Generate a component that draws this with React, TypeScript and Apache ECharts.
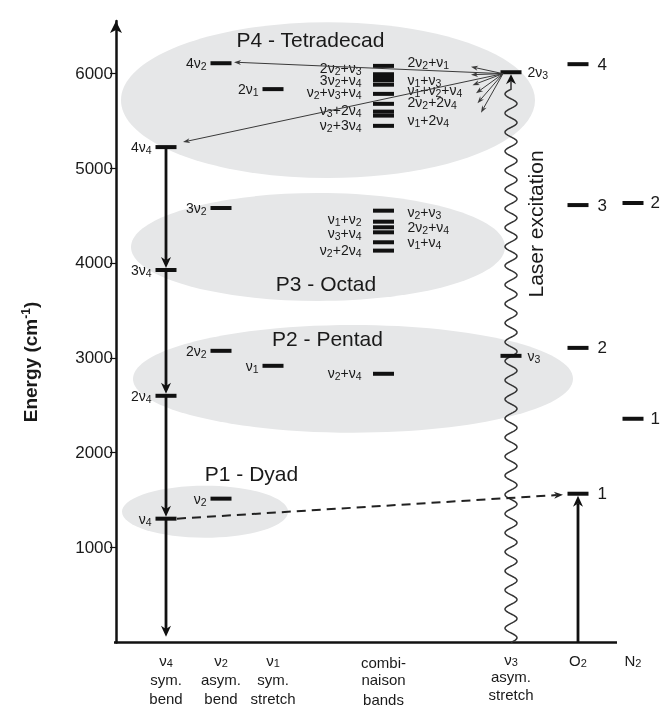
import React, { useEffect, useRef } from 'react';
import * as echarts from 'echarts';

const FONT = '"Liberation Sans", Arial, Helvetica, sans-serif';
const TXT = '#1a1a1a';
const INK = '#111111';

// ---------- categories (columns) ----------
const columnKeys = ['nu4', 'nu2', 'nu1', 'comb', 'nu3', 'O2', 'N2'];
const columnX = [50, 105, 157, 267.5, 395, 462, 517];
const columnLabels = [
  ['ν4', 'sym.', 'bend'],
  ['ν2', 'asym.', 'bend'],
  ['ν1', 'sym.', 'stretch'],
  ['combi-', 'naison', 'bands'],
  ['ν3', 'asym.', 'stretch'],
  ['O2'],
  ['N2'],
];
const yTicks = [1000, 2000, 3000, 4000, 5000, 6000];

// ---------- energy levels (cm-1) ----------
const nu4Levels = [1305, 2600, 3926, 5221];
const nu4Names = ['ν4', '2ν4', '3ν4', '4ν4'];
const nu2Levels = [1516, 3074, 4579, 6105];
const nu2Names = ['ν2', '2ν2', '3ν2', '4ν2'];
const nu1Levels = [2916, 5832];
const nu1Names = ['ν1', '2ν1'];
const nu3Levels = [3021, 6010];
const nu3Names = ['ν3', '2ν3'];
const o2Levels = [1568, 3105, 4610, 6095];
const o2Names = ['1', '2', '3', '4'];
const n2Levels = [2358, 4632];
const n2Names = ['1', '2'];
const combLevels = [2832, 4130, 4218, 4323, 4376, 4435, 4551, 5445, 5553, 5595, 5677, 5782, 5879, 5926, 5953, 5989, 6077];

// combination-band labels (energy at which each label sits)
const combLeftNames = ['ν2+ν4', 'ν1+ν2', 'ν3+ν4', 'ν2+2ν4', '2ν2+ν3', '3ν2+ν4', 'ν2+ν3+ν4', 'ν3+2ν4', 'ν2+3ν4'];
const combLeftE = [2842, 4463, 4316, 4137, 6053, 5926, 5800, 5611, 5453];
const combRightNames = ['ν2+ν3', '2ν2+ν4', 'ν1+ν4', '2ν2+ν1', 'ν1+ν3', 'ν1+ν2+ν4', '2ν2+2ν4', 'ν1+2ν4'];
const combRightE = [4537, 4379, 4221, 6116, 5926, 5821, 5695, 5505];

// polyads
const polyadNames = ['P1 - Dyad', 'P2 - Pentad', 'P3 - Octad', 'P4 - Tetradecad'];
const polyadCenterX = [89, 237, 202, 212];
const polyadCenterE = [1379, 2779, 4168, 5716];
const polyadHalfWidth = [83, 220, 187, 207];
const polyadHalfHeightE = [274, 568, 568, 821];
const polyadTitleX = [135.5, 211.5, 210, 194.5];
const polyadTitleE = [1779, 3200, 3779, 6353];

// relaxation fan from 2ν3
const fanStartE = 5995;
const fanTipX = [118, 67, 355, 355, 356.5, 360, 361.5, 365];
const fanTipE = [6116, 5274, 6068, 5984, 5874, 5789, 5684, 5584];

const laserLabel = 'Laser excitation';
const laserLabelE = 4411;
const groundArrowE = 60;
const axisEndX = 501;

// ---------- helpers ----------
const X = (k: string) => columnX[columnKeys.indexOf(k)];
const sub = (t: string) => t.replace(/ν(\d)/g, 'ν{s|$1}').replace(/^([ON])2$/, '$1{s|2}');
const richSub = { s: { fontSize: 10.5, lineHeight: 11, padding: [6, 0, 0, 0], fontFamily: FONT, color: TXT } };

const levelSeries = (k: string, levels: number[], names: string[], pos: string, fontSize = 14, dist = 4) => ({
  type: 'scatter',
  silent: true,
  clip: false,
  z: 5,
  symbol: 'rect',
  symbolSize: [21, 4],
  itemStyle: { color: INK, opacity: 1 },
  data: levels.map((e) => [X(k), e]),
  label: {
    show: names.length > 0,
    position: pos,
    distance: dist,
    formatter: (p: any) => sub(names[p.dataIndex] || ''),
    fontSize,
    lineHeight: 17,
    color: TXT,
    opacity: 1,
    fontFamily: FONT,
    rich: richSub,
  },
});

const textSeries = (xs: number[], es: number[], names: string[], pos: string, extra: any = {}) => ({
  type: 'scatter',
  silent: true,
  clip: false,
  z: 4,
  symbol: 'circle',
  symbolSize: 1,
  itemStyle: { color: 'rgba(0,0,0,0)' },
  data: names.map((_, i) => [xs[i], es[i]]),
  label: {
    show: true,
    position: pos,
    distance: 0,
    formatter: (p: any) => sub(names[p.dataIndex]),
    fontSize: 14,
    lineHeight: 17,
    color: TXT,
    opacity: 1,
    textBorderWidth: 0,
    fontFamily: FONT,
    rich: richSub,
    ...extra,
  },
});

const arrowStyles = [
  { w: 2.8, color: INK, L: 11, W: 10, dash: null as any },
  { w: 1, color: '#3a3a3a', L: 7, W: 5, dash: null as any },
  { w: 2, color: '#222', L: 9, W: 7, dash: [9, 6] },
];

function buildArrowData() {
  const d: number[][] = [];
  const nx = X('nu4');
  const ladder = [...nu4Levels].sort((a, b) => b - a);
  for (let i = 0; i < ladder.length - 1; i++) d.push([nx, ladder[i], nx, ladder[i + 1], 0, 2]);
  d.push([nx, ladder[ladder.length - 1], nx, groundArrowE, 0, 0]);
  const ox = X('O2');
  d.push([ox, 0, ox, o2Levels[0], 0, 2]);
  d.push([nx + 11, nu4Levels[0], ox - 15, o2Levels[0] - 10, 2, 0]);
  const sx = X('nu3') - 8;
  fanTipX.forEach((tx, i) => d.push([sx, fanStartE, tx, fanTipE[i], 1, 0]));
  return d;
}

function arrowRender(params: any, api: any) {
  const p1 = api.coord([api.value(0), api.value(1)]);
  const p2 = api.coord([api.value(2), api.value(3)]);
  const st = arrowStyles[api.value(4)];
  const gap = api.value(5);
  const dx = p2[0] - p1[0];
  const dy = p2[1] - p1[1];
  const len = Math.hypot(dx, dy) || 1;
  const ux = dx / len, uy = dy / len;
  const nx = -uy, ny = ux;
  const tip = [p2[0] - ux * gap, p2[1] - uy * gap];
  const base = [tip[0] - ux * st.L, tip[1] - uy * st.L];
  const notch = [tip[0] - ux * st.L * 0.7, tip[1] - uy * st.L * 0.7];
  return {
    type: 'group',
    children: [
      {
        type: 'line',
        shape: { x1: p1[0], y1: p1[1], x2: notch[0], y2: notch[1] },
        style: { stroke: st.color, lineWidth: st.w, lineDash: st.dash || undefined, fill: null },
      },
      {
        type: 'polygon',
        shape: {
          points: [tip, [base[0] + nx * st.W / 2, base[1] + ny * st.W / 2], notch, [base[0] - nx * st.W / 2, base[1] - ny * st.W / 2]],
        },
        style: { fill: st.color, stroke: null },
      },
    ],
  };
}

function waveRender(params: any, api: any) {
  const b = api.coord([api.value(0), api.value(1)]);
  const t = api.coord([api.value(0), api.value(2)]);
  const tipY = t[1] + 2;
  const L = 10, W = 10;
  const straightEnd = tipY + L * 0.7;
  const waveEnd = tipY + L + 5;
  const A = 6;
  const h = b[1] - waveEnd;
  const nHalf = Math.max(1, Math.round(h / 9.6));
  const P = (2 * h) / nHalf;
  const pts: number[][] = [];
  for (let k = 0; k <= 900; k++) {
    const y = b[1] - (h * k) / 900;
    pts.push([b[0] + A * Math.sin((2 * Math.PI * (b[1] - y)) / P), y]);
  }
  pts.push([b[0], straightEnd]);
  return {
    type: 'group',
    children: [
      { type: 'polyline', shape: { points: pts }, style: { stroke: '#333', lineWidth: 1.5, fill: null } },
      {
        type: 'polygon',
        shape: { points: [[b[0], tipY], [b[0] - W / 2, tipY + L], [b[0], straightEnd], [b[0] + W / 2, tipY + L]] },
        style: { fill: INK },
      },
    ],
  };
}

function ellipseRender(params: any, api: any) {
  const c = api.coord([api.value(0), api.value(1)]);
  const s = api.size([api.value(2), api.value(3)]);
  return { type: 'ellipse', shape: { cx: c[0], cy: c[1], rx: s[0], ry: s[1] }, style: { fill: '#e6e7e8' } };
}

function bottomFmt(v: number) {
  const i = columnX.findIndex((x) => Math.abs(x - v) < 1e-6);
  if (i < 0) return '';
  const k = columnKeys[i];
  const lines = columnLabels[i];
  if (k === 'comb') return `{d|${lines[0]}}\n{e|${lines[1]}}\n{e|${lines[2]}}`;
  if (k === 'nu3') return `{c|ν}{s|3}\n{c|${lines[1]}}\n{c|${lines[2]}}`;
  return lines.map((l) => sub(l)).join('\n');
}

const option: any = {
  animation: false,
  grid: { left: 116, right: 11, top: 21, bottom: 66 },
  xAxis: {
    type: 'value',
    min: 0,
    max: 534,
    axisLine: { show: false },
    axisTick: { show: false },
    splitLine: { show: false },
    axisLabel: {
      customValues: columnX,
      formatter: bottomFmt,
      hideOverlap: false,
      margin: 8,
      fontSize: 15,
      lineHeight: 19,
      color: TXT,
      fontFamily: FONT,
      rich: {
        s: { fontSize: 11, lineHeight: 11, padding: [6, 0, 0, 0], color: TXT, fontFamily: FONT },
        c: { fontSize: 15, lineHeight: 17.5, color: TXT, fontFamily: FONT },
        d: { fontSize: 15, lineHeight: 19.5, padding: [4, 0, 0, 0], color: TXT, fontFamily: FONT },
        e: { fontSize: 15, lineHeight: 19.5, color: TXT, fontFamily: FONT },
      },
    },
  },
  yAxis: {
    type: 'value',
    min: 0,
    max: 6550,
    interval: 1000,
    axisLine: { show: true, symbol: ['none', 'arrow'], symbolSize: [9, 12], lineStyle: { color: INK, width: 2.5 } },
    axisTick: { show: true, customValues: yTicks, length: 6, lineStyle: { color: INK, width: 1.2 } },
    axisLabel: {
      customValues: yTicks,
      formatter: (v: number) => (v >= 1000 && v <= 6000 ? String(v) : ''),
      fontSize: 17,
      color: TXT,
      fontFamily: FONT,
      margin: 3,
    },
    splitLine: { show: false },
  },
  graphic: [
    {
      type: 'text',
      x: 30,
      y: 362,
      rotation: Math.PI / 2,
      style: {
        text: 'Energy (cm{sup|-1})',
        fontFamily: FONT,
        fontSize: 19,
        fontWeight: 'bold',
        fill: TXT,
        align: 'center',
        verticalAlign: 'middle',
        rich: { sup: { fontSize: 12, fontWeight: 'bold', fontFamily: FONT, fill: TXT, padding: [0, 0, 8, 0] } },
      },
    },
  ],
  series: [
    {
      type: 'custom',
      silent: true,
      z: 0,
      renderItem: ellipseRender,
      encode: { x: 0, y: 1 },
      data: polyadNames.map((_, i) => [polyadCenterX[i], polyadCenterE[i], polyadHalfWidth[i], polyadHalfHeightE[i]]),
    },
    {
      type: 'line',
      silent: true,
      clip: false,
      z: 3,
      showSymbol: false,
      symbol: 'none',
      lineStyle: { color: INK, width: 2.5 },
      data: [[-2, 0], [axisEndX, 0]],
    },
    textSeries(polyadTitleX, polyadTitleE, polyadNames, 'inside', { fontSize: 21, lineHeight: 24 }),
    textSeries([X('nu3') + 24.5], [laserLabelE], [laserLabel], 'inside', { fontSize: 21, lineHeight: 24, rotate: 90 }),
    textSeries(combLeftNames.map(() => X('comb') - 21.5), combLeftE, combLeftNames, 'left'),
    textSeries(combRightNames.map(() => X('comb') + 23.5), combRightE, combRightNames, 'right'),
    {
      type: 'custom',
      silent: true,
      z: 4,
      renderItem: waveRender,
      encode: { x: 0, y: [1, 2] },
      data: [[X('nu3'), 0, nu3Levels[1]]],
    },
    levelSeries('nu4', nu4Levels, nu4Names, 'left'),
    levelSeries('nu2', nu2Levels, nu2Names, 'left'),
    levelSeries('nu1', nu1Levels, nu1Names, 'left'),
    levelSeries('comb', combLevels, [], 'left'),
    levelSeries('nu3', nu3Levels, nu3Names, 'right', 14, 6),
    levelSeries('O2', o2Levels, o2Names, 'right', 17, 9),
    levelSeries('N2', n2Levels, n2Names, 'right', 17, 7),
    {
      type: 'custom',
      silent: true,
      z: 6,
      renderItem: arrowRender,
      encode: { x: [0, 2], y: [1, 3] },
      data: buildArrowData(),
    },
  ],
};

export default function App() {
  const ref = useRef<HTMLDivElement>(null);
  useEffect(() => {
    const chart = echarts.init(ref.current!, null, { renderer: 'svg' });
    chart.setOption(option);
    return () => chart.dispose();
  }, []);
  return <div ref={ref} style={{ position: 'fixed', left: 0, top: 0, width: 661, height: 709 }} />;
}
